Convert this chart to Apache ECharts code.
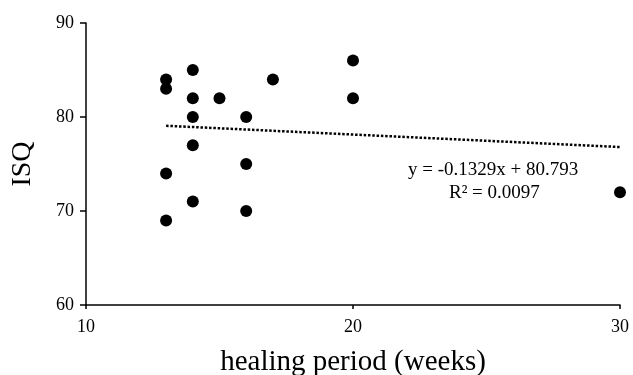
<!DOCTYPE html>
<html>
<head>
<meta charset="utf-8">
<script src="https://cdn.jsdelivr.net/npm/echarts@6/dist/echarts.min.js"></script>
<style>
  html, body { margin: 0; padding: 0; background: #fff; }
  #chart { width: 633px; height: 375px; }
</style>
</head>
<body>
<div id="chart"></div>
<script>
// healing period (weeks) vs ISQ
const weeks = [13, 13, 13, 13, 14, 14, 14, 14, 14, 15, 16, 16, 16, 17, 20, 20, 30]
const isq = [84, 83, 74, 69, 85, 82, 80, 77, 71, 82, 80, 75, 70, 84, 86, 82, 72]
const xTicks = [10, 20, 30]
const yTicks = [60, 70, 80, 90]
// trendline as printed on the chart
const slope = -0.1329
const intercept = 80.793
const trendX = [13, 30]

const points = weeks.map((w, i) => [w, isq[i]])
const trend = trendX.map(x => [x, slope * x + intercept])

const font = 'Liberation Serif'
const chart = echarts.init(document.getElementById('chart'))

chart.setOption({
  animation: false,
  textStyle: { fontFamily: font },
  grid: { left: 86, right: 13, top: 23, bottom: 70, outerBoundsMode: 'none', containLabel: false },
  xAxis: {
    type: 'value',
    min: xTicks[0],
    max: xTicks[xTicks.length - 1],
    interval: 10,
    name: 'healing period (weeks)',
    nameLocation: 'middle',
    nameGap: 43,
    nameTextStyle: { fontFamily: font, fontSize: 29, color: '#000' },
    axisLine: { lineStyle: { color: '#000', width: 1.5 } },
    axisTick: { show: true, length: 4, lineStyle: { color: '#000', width: 1.5 } },
    axisLabel: { fontFamily: font, fontSize: 18, color: '#000', margin: 13 },
    splitLine: { show: false }
  },
  yAxis: {
    type: 'value',
    min: yTicks[0],
    max: yTicks[yTicks.length - 1],
    interval: 10,
    name: 'ISQ',
    nameLocation: 'middle',
    nameGap: 49,
    nameTextStyle: { fontFamily: font, fontSize: 28, color: '#000' },
    axisLine: { show: true, lineStyle: { color: '#000', width: 1.5 } },
    axisTick: { show: true, length: 6, lineStyle: { color: '#000', width: 1.5 } },
    axisLabel: { fontFamily: font, fontSize: 18, color: '#000', margin: 12 },
    splitLine: { show: false }
  },
  series: [
    {
      type: 'scatter',
      data: points,
      symbol: 'circle',
      symbolSize: 12,
      itemStyle: { color: '#000', opacity: 1 }
    },
    {
      type: 'line',
      data: trend,
      symbol: 'none',
      lineStyle: { color: '#000', width: 2.5, type: [2.5, 1.8] }
    }
  ],
  graphic: [
    {
      type: 'text',
      left: 408,
      top: 161,
      style: { text: 'y = -0.1329x + 80.793', fontFamily: font, fontSize: 19, fill: '#000' }
    },
    {
      type: 'text',
      left: 449,
      top: 184,
      style: { text: 'R² = 0.0097', fontFamily: font, fontSize: 19, fill: '#000' }
    }
  ]
})
</script>
</body>
</html>
